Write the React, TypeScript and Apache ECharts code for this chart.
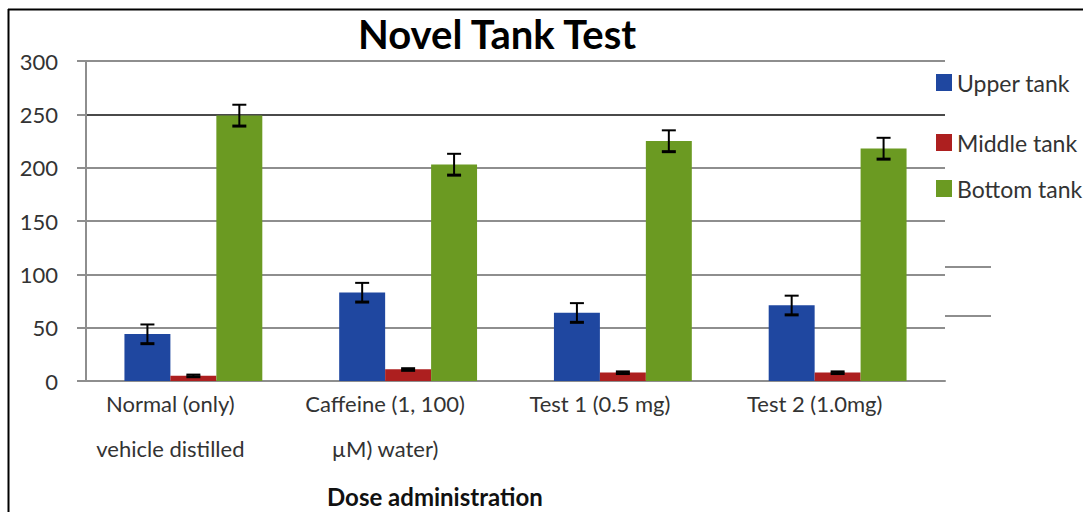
import React, { useEffect, useRef } from "react";
import * as echarts from "echarts";

const categories = [
  "Normal (only)\nvehicle distilled",
  "Caffeine (1, 100)\nµM) water)",
  "Test 1 (0.5 mg)",
  "Test 2 (1.0mg)",
];
const seriesNames = ["Upper tank", "Middle tank", "Bottom tank"];
const upperTank = [44, 83, 64, 71];
const middleTank = [5, 11, 8, 8];
const bottomTank = [249, 203, 225, 218];
const upperErr = [9, 9, 9, 9];
const middleErr = [1, 1, 1, 1];
const bottomErr = [10, 10, 10, 10];
const yTicks = [0, 50, 100, 150, 200, 250, 300];
const colors = ["#1f47a0", "#ad1f1f", "#6b9a22"];

const FONT = "Lato";
const BAR_FRAC = 0.214;

export default function App() {
  const ref = useRef<HTMLDivElement>(null);
  useEffect(() => {
    if (!ref.current) return;
    const chart = echarts.init(ref.current, null, { renderer: "svg" });
    const values = [upperTank, middleTank, bottomTank];
    const errs = [upperErr, middleErr, bottomErr];
    const errData: number[][] = [];
    values.forEach((vals, s) =>
      vals.forEach((v, i) => errData.push([i, v, errs[s][i], s]))
    );
    const gridColors = yTicks.map((t) => (t === 250 ? "#4a4a4a" : "#8e8e8e"));
    const legendTops = [71, 131, 177];
    chart.setOption({
      animation: false,
      backgroundColor: "#ffffff",
      title: [
        {
          text: "Novel Tank Test",
          left: 358,
          top: 14,
          padding: 0,
          textStyle: { fontFamily: FONT, fontWeight: "bold", fontSize: 40, color: "#000" },
        },
        {
          text: "Dose administration",
          left: 327,
          top: 484,
          padding: 0,
          textStyle: { fontFamily: FONT, fontWeight: "bold", fontSize: 24, color: "#111" },
        },
      ],
      legend: seriesNames.map((n, i) => ({
        data: [n],
        left: 936,
        top: legendTops[i],
        padding: 0,
        icon: "rect",
        itemWidth: 16,
        itemHeight: 17,
        textStyle: { fontFamily: FONT, fontSize: 23, color: "#333", padding: [0, 0, 9, 0] },
      })),
      grid: { left: 86, right: 138, top: 61, bottom: 131 },
      xAxis: {
        type: "category",
        data: categories,
        axisLine: { show: true, lineStyle: { color: "#8e8e8e", width: 2 } },
        axisTick: { show: false },
        axisLabel: {
          fontFamily: FONT,
          fontSize: 22,
          color: "#333",
          lineHeight: 45,
          margin: 0,
          interval: 0,
          padding: [0, 46, 0, 0],
        },
      },
      yAxis: {
        type: "value",
        min: 0,
        max: 300,
        interval: 50,
        axisLine: { show: true, lineStyle: { color: "#8e8e8e", width: 2 } },
        axisTick: { show: true, length: 9, lineStyle: { color: "#8e8e8e", width: 2 } },
        splitLine: { show: true, lineStyle: { color: gridColors, width: 2 } },
        axisLabel: { fontFamily: FONT, fontSize: 22, color: "#333", margin: 28, padding: [0, 0, 6, 0] },
      },
      series: [
        ...seriesNames.map((n, s) => ({
          name: n,
          type: "bar",
          data: values[s],
          barWidth: BAR_FRAC * 100 + "%",
          barGap: "0%",
          itemStyle: { color: colors[s] },
        })),
        {
          type: "custom",
          name: "error",
          data: errData,
          z: 10,
          silent: true,
          renderItem: (params: any, api: any) => {
            const ci = api.value(0);
            const v = api.value(1);
            const e = api.value(2);
            const s = api.value(3);
            const w = api.size([1, 0])[0];
            const off = (s - 1) * BAR_FRAC * w;
            const hi = api.coord([ci, v + e]);
            const lo = api.coord([ci, v - e]);
            const x = hi[0] + off;
            const cap = 7;
            const st = { stroke: "#000", lineWidth: 2 };
            return {
              type: "group",
              children: [
                { type: "line", shape: { x1: x, y1: hi[1], x2: x, y2: lo[1] }, style: st },
                { type: "line", shape: { x1: x - cap, y1: hi[1], x2: x + cap, y2: hi[1] }, style: st },
                { type: "line", shape: { x1: x - cap, y1: lo[1], x2: x + cap, y2: lo[1] }, style: { stroke: "#000", lineWidth: 3 } },
              ],
            };
          },
        },
      ],
      graphic: [
        { type: "line", shape: { x1: 8, y1: 9.5, x2: 1083, y2: 9.5 }, style: { stroke: "#000", lineWidth: 2 } },
        { type: "line", shape: { x1: 8.5, y1: 9, x2: 8.5, y2: 512 }, style: { stroke: "#000", lineWidth: 2 } },
        { type: "line", shape: { x1: 945, y1: 267, x2: 991, y2: 267 }, style: { stroke: "#8e8e8e", lineWidth: 2 } },
        { type: "line", shape: { x1: 945, y1: 316, x2: 991, y2: 316 }, style: { stroke: "#8e8e8e", lineWidth: 2 } },
      ],
    });
    return () => chart.dispose();
  }, []);
  return <div ref={ref} style={{ width: 1083, height: 512, position: "absolute", left: 0, top: 0 }} />;
}
